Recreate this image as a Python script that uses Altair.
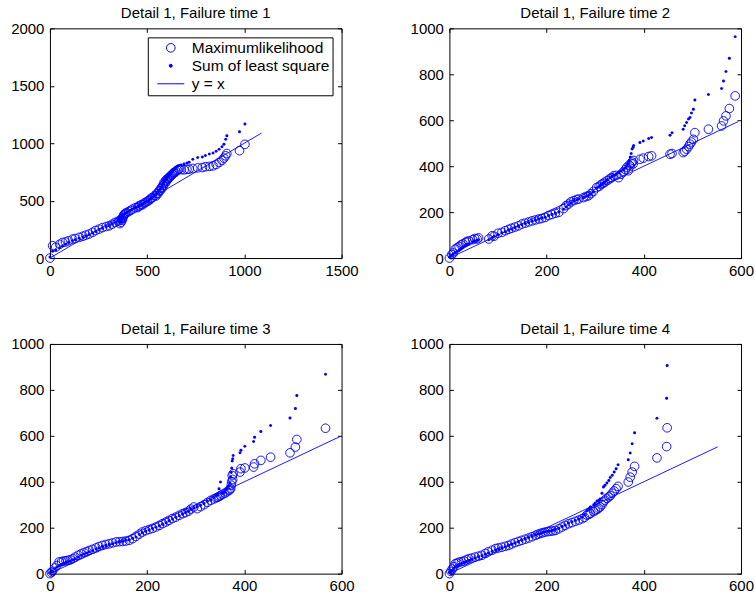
import altair as alt
import pandas as pd

BLUE = "#0000ff"
FONT = "Liberation Sans"
W, H = 292, 230

SERIES = ["Maximumlikelihood", "Sum of least square", "y = x"]

# ---- Failure time 1: observed time vs. fitted time ----
ft1_x = [0, 14, 30, 50, 65, 80, 95, 116, 130, 151, 170, 185, 202, 220, 235, 253, 270, 290,
         305, 320, 335, 350, 362, 370, 378, 385, 395, 405, 415, 425, 440, 455, 470, 485,
         500, 515, 528, 540, 550, 562, 572, 580, 587, 595, 603, 613, 620, 630, 638, 648,
         656, 664, 675, 690, 705, 716, 735, 760, 784, 800, 820, 839, 855, 870, 885, 895,
         904, 910, 975, 1003,
         360, 366, 372, 375, 380, 388, 452, 462, 478, 492, 508, 520, 545, 555, 566, 576,
         584, 592, 600, 608, 616, 625, 634, 643]
ft1_ml = [0, 107, 95, 120, 136, 140, 150, 165, 170, 180, 190, 200, 209, 225, 240, 252, 265,
          275, 281, 295, 310, 320, 330, 345, 365, 383, 395, 405, 415, 426, 438, 452, 465,
          478, 493, 510, 528, 545, 562, 586, 610, 630, 658, 675, 690, 701, 715, 730, 745,
          755, 765, 774, 770, 768, 772, 774, 780, 785, 788, 795, 798, 803, 815, 832, 850,
          870, 890, 910, 935, 990,
          300, 312, 330, 350, 375, 390, 440, 455, 465, 485, 500, 520, 540, 560, 585, 605,
          635, 650, 670, 690, 705, 720, 735, 745]
ft1_ls = [10, 60, 70, 90, 105, 120, 135, 150, 160, 172, 183, 195, 205, 218, 232, 248, 260,
          272, 283, 298, 312, 325, 338, 355, 372, 385, 398, 407, 417, 427, 440, 453, 467,
          480, 495, 511, 529, 547, 565, 590, 615, 638, 665, 685, 705, 720, 735, 755, 770,
          790, 800, 806, 810, 820, 828, 835, 860, 875, 880, 893, 905, 915, 930, 948, 970,
          991, 1035, 1064, 1099, 1168,
          310, 318, 340, 352, 378, 388, 445, 458, 470, 488, 500, 520, 552, 572, 600, 625,
          650, 670, 690, 712, 728, 748, 762, 780]
ft1_ref = [0, 1088]

# ---- Failure time 2 ----
ft2_x = [0, 5, 12, 20, 28, 33, 40, 48, 57, 81, 88, 100, 115, 128, 142, 156, 170, 184, 197,
         211, 225, 235, 245, 256, 266, 276, 286, 296, 303, 312, 320, 330, 338, 348, 358,
         365, 370, 374, 376, 379, 392, 399, 410, 416, 454, 458, 481, 484, 488, 492, 495,
         498, 502, 505, 533, 560, 564, 569, 576, 588,
         8, 16, 24, 36, 52, 60, 92, 108, 122, 135, 149, 163, 177, 190, 204, 218, 240, 250,
         262, 281, 291, 308, 316, 325, 334, 343, 353, 362, 368, 372, 378]
ft2_ml = [0, 15, 39, 50, 62, 68, 75, 80, 83, 83, 97, 108, 119, 130, 140, 152, 162, 170, 177,
          190, 199, 215, 235, 250, 257, 263, 271, 290, 307, 320, 330, 345, 358, 350, 375,
          395, 405, 412, 418, 425, 430, 435, 442, 445, 452, 455, 459, 465, 474, 485, 496,
          505, 517, 546, 561, 575, 597, 619, 651, 706,
          22, 45, 58, 72, 85, 88, 95, 112, 125, 135, 148, 157, 166, 172, 185, 195, 228, 245,
          255, 268, 280, 312, 325, 338, 350, 360, 365, 385, 380, 400, 410]
ft2_ls = [5, 12, 25, 35, 48, 55, 62, 70, 78, 80, 90, 102, 115, 127, 138, 150, 160, 170, 178,
          190, 200, 212, 232, 248, 257, 264, 272, 288, 305, 320, 332, 348, 362, 372, 385,
          400, 425, 455, 475, 490, 503, 510, 520, 525, 535, 545, 561, 576, 590, 605, 612,
          631, 648, 688, 712, 738, 771, 812, 870, 964,
          18, 30, 42, 60, 75, 80, 95, 110, 122, 133, 145, 155, 165, 174, 185, 195, 222, 240,
          253, 268, 280, 312, 326, 340, 355, 365, 378, 392, 410, 440, 482]
ft2_ref = [0, 594]

# ---- Failure time 3 ----
ft3_x = [0, 5, 10, 19, 28, 37, 47, 58, 70, 81, 95, 108, 122, 136, 150, 163, 177, 190, 204,
         218, 232, 245, 259, 273, 285, 296, 303, 317, 331, 342, 345, 348, 351, 360, 368,
         372, 374, 375, 377, 391, 393, 401, 419, 421, 434, 454, 494, 505, 508, 567,
         3, 14, 24, 33, 42, 52, 64, 76, 88, 101, 115, 129, 143, 156, 170, 184, 197, 211,
         225, 239, 252, 266, 279, 290, 310, 324, 337, 355, 364, 370, 373, 376]
ft3_ml = [0, 10, 25, 51, 55, 58, 65, 80, 92, 101, 112, 123, 130, 138, 140, 145, 162, 181,
          192, 203, 218, 232, 246, 261, 272, 290, 283, 300, 319, 330, 332, 336, 340, 350,
          362, 370, 400, 427, 435, 442, 457, 460, 464, 478, 493, 507, 526, 551, 584, 633,
          5, 35, 52, 56, 60, 72, 86, 96, 106, 118, 127, 134, 139, 142, 152, 172, 187, 197,
          210, 225, 240, 254, 266, 281, 292, 310, 325, 345, 356, 365, 385, 410]
ft3_ls = [5, 12, 20, 35, 45, 52, 60, 72, 85, 95, 107, 118, 127, 135, 140, 148, 160, 178,
          190, 202, 215, 230, 245, 260, 272, 286, 292, 305, 322, 340, 345, 370, 399, 355,
          380, 420, 460, 490, 514, 526, 537, 555, 575, 594, 619, 645, 678, 719, 775, 868,
          8, 28, 40, 48, 55, 65, 80, 90, 100, 112, 122, 130, 138, 145, 154, 170, 185, 196,
          208, 222, 238, 252, 266, 280, 298, 315, 332, 350, 368, 395, 440, 500]
ft3_ref = [0, 597]

# ---- Failure time 4 ----
ft4_x = [0, 6, 12, 20, 30, 40, 53, 67, 80, 95, 108, 122, 135, 149, 163, 177, 187, 197, 208,
         218, 232, 245, 259, 273, 283, 290, 297, 304, 310, 317, 324, 328, 335, 339, 343,
         347, 368, 372, 376, 381, 427, 447, 448,
         3, 9, 16, 25, 35, 46, 60, 74, 88, 101, 115, 128, 142, 156, 170, 182, 192, 203,
         213, 225, 238, 252, 266, 278, 287, 300, 307, 314, 320, 331]
ft4_ml = [0, 20, 43, 50, 55, 65, 72, 80, 95, 109, 115, 123, 135, 145, 155, 167, 175, 181,
          185, 188, 203, 217, 228, 239, 255, 262, 270, 280, 290, 312, 328, 334, 350, 360,
          370, 380, 399, 420, 442, 467, 504, 553, 635,
          10, 30, 46, 52, 60, 68, 76, 88, 102, 112, 119, 129, 140, 150, 161, 171, 178, 183,
          186, 195, 210, 222, 233, 245, 258, 275, 285, 300, 320, 340]
ft4_ls = [5, 15, 30, 40, 48, 58, 68, 78, 90, 103, 113, 122, 133, 145, 157, 168, 175, 182,
          186, 192, 205, 220, 232, 245, 275, 290, 300, 316, 325, 377, 395, 406, 428, 442,
          457, 474, 496, 525, 565, 613, 677, 764, 906,
          8, 22, 35, 44, 53, 63, 73, 84, 97, 108, 117, 128, 139, 151, 162, 172, 179, 184,
          189, 198, 212, 226, 238, 255, 282, 308, 318, 350, 385, 418]
ft4_ref = [0, 552]

TICKS_1500 = [0, 500, 1000, 1500]
TICKS_2000 = [0, 500, 1000, 1500, 2000]
TICKS_600 = [0, 200, 400, 600]
TICKS_1000 = [0, 200, 400, 600, 800, 1000]


def inward(orient, offset, values):
    # tick-only axis moved onto the opposite frame edge so its ticks point into the plot
    return alt.Axis(orient=orient, offset=offset, values=values, labels=False, ticks=True,
                    tickSize=4, domain=False, grid=False, title=None)


def panel(xs, ml, ls, ref, xmax, ymax, xticks, yticks, title, show_legend):
    ml_df = pd.DataFrame({"x": xs, "y": ml, "series": SERIES[0]})
    ls_df = pd.DataFrame({"x": xs, "y": ls, "series": SERIES[1]})
    ref_df = pd.DataFrame({"x": ref, "y": ref})

    xsc = alt.Scale(domain=[0, xmax], nice=False, zero=False)
    ysc = alt.Scale(domain=[0, ymax], nice=False, zero=False)

    if show_legend:
        legend = alt.Legend(
            title=None, orient="top-right", offset=9, padding=3, cornerRadius=0,
            strokeColor="black", fillColor="white", labelFont=FONT, labelFontSize=15.5,
            labelColor="black", symbolStrokeColor=BLUE, symbolFillColor="transparent",
            symbolStrokeWidth=1, rowPadding=2, clipHeight=15, labelOffset=7, symbolOffset=6,
        )
        sub_legend = alt.Undefined
    else:
        legend = None
        sub_legend = None

    enc = dict(
        shape=alt.Shape("series:N", scale=alt.Scale(domain=SERIES, range=["circle", "circle", "stroke"]),
                        legend=legend),
        size=alt.Size("series:N", scale=alt.Scale(type="ordinal", domain=SERIES, range=[75, 9, 729]),
                      legend=sub_legend),
        fill=alt.Fill("series:N", scale=alt.Scale(domain=SERIES, range=["transparent", BLUE, "transparent"]),
                      legend=sub_legend),
    )

    label_x = alt.Axis(orient="bottom", values=xticks, format="d", ticks=False, tickSize=0,
                       domain=False, grid=False, labelPadding=5, labelFlush=False,
                       labelOverlap=False, title=None)
    label_y = alt.Axis(orient="left", values=yticks, format="d", ticks=False, tickSize=0,
                       domain=False, grid=False, labelPadding=6, labelFlush=False,
                       labelOverlap=False, title=None)

    ml_layer = alt.Chart(ml_df).mark_point(stroke=BLUE, strokeWidth=0.9, opacity=1).encode(
        x=alt.X("x:Q", scale=xsc, axis=label_x),
        y=alt.Y("y:Q", scale=ysc, axis=label_y),
        **enc,
    )
    ls_layer = alt.Chart(ls_df).mark_point(strokeWidth=0, opacity=1).encode(
        x=alt.X("x:Q", scale=xsc, axis=inward("top", -H, xticks)),
        y=alt.Y("y:Q", scale=ysc, axis=inward("right", -W, yticks)),
        **enc,
    )
    ref_layer = alt.Chart(ref_df).mark_line(color=BLUE, strokeWidth=0.9).encode(
        x=alt.X("x:Q", scale=xsc, axis=inward("bottom", -H, xticks)),
        y=alt.Y("y:Q", scale=ysc, axis=inward("left", -W, yticks)),
    )
    return (
        alt.layer(ml_layer, ls_layer, ref_layer)
        .resolve_axis(x="independent", y="independent")
        .properties(width=W, height=H,
                    title=alt.TitleParams(title, frame="group", offset=0))
    )


p1 = panel(ft1_x, ft1_ml, ft1_ls, ft1_ref, 1500, 2000, TICKS_1500, TICKS_2000,
           "Detail 1, Failure time 1", True)
p2 = panel(ft2_x, ft2_ml, ft2_ls, ft2_ref, 600, 1000, TICKS_600, TICKS_1000,
           "Detail 1, Failure time 2", False)
p3 = panel(ft3_x, ft3_ml, ft3_ls, ft3_ref, 600, 1000, TICKS_600, TICKS_1000,
           "Detail 1, Failure time 3", False)
p4 = panel(ft4_x, ft4_ml, ft4_ls, ft4_ref, 600, 1000, TICKS_600, TICKS_1000,
           "Detail 1, Failure time 4", False)

indep = dict(shape="independent", size="independent", fill="independent")

chart = (
    alt.concat(p1, p2, p3, p4, columns=2, spacing={"row": 86, "column": 108}, bounds="flush")
    .resolve_scale(**indep)
    .resolve_legend(**indep)
    .properties(padding={"left": 10, "top": 5, "right": 0, "bottom": 0}, background="white")
    .configure_view(stroke="black", strokeWidth=1)
    .configure_axis(labelFont=FONT, labelFontSize=15, labelColor="black", tickColor="black",
                    tickWidth=1)
    .configure_title(font=FONT, fontSize=15, fontWeight="normal", color="black",
                     anchor="middle", baseline="alphabetic")
)

chart.save("out.html", embed_options={"renderer": "svg", "actions": False})
